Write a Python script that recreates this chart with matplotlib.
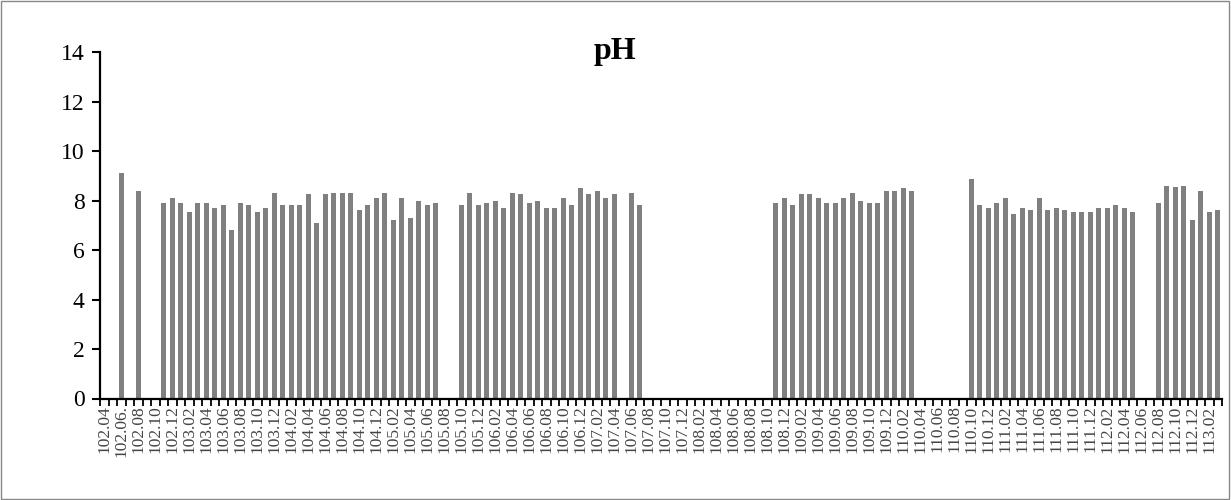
import numpy as np
import matplotlib
matplotlib.use("Agg")
import matplotlib.pyplot as plt
from matplotlib.patches import Rectangle

title = "pH"

# monthly pH values from 102.04 to 113.03 (None = no sample)
ph_values = [
    None, None, 9.1, None, 8.4, None, None, 7.9, 8.1, 7.9,      # 102.04-103.01
    7.55, 7.9, 7.9, 7.7, 7.8, 6.8, 7.9, 7.8, 7.55, 7.7,         # 103.02-103.11
    8.3, 7.8, 7.8, 7.8, 8.25, 7.1, 8.25, 8.3, 8.3, 8.3,         # 103.12-104.09
    7.6, 7.8, 8.1, 8.3, 7.2, 8.1, 7.3, 8.0, 7.8, 7.9,           # 104.10-105.07
    None, None, 7.8, 8.3, 7.8, 7.9, 8.0, 7.7, 8.3, 8.25,        # 105.08-106.05
    7.9, 8.0, 7.7, 7.7, 8.1, 7.8, 8.5, 8.25, 8.4, 8.1,          # 106.06-107.03
    8.25, None, 8.3, 7.8, None, None, None, None, None, None,   # 107.04-108.01
    None, None, None, None, None, None, None, None, None, 7.9,  # 108.02-108.11
    8.1, 7.8, 8.25, 8.25, 8.1, 7.9, 7.9, 8.1, 8.3, 8.0,         # 108.12-109.09
    7.9, 7.9, 8.4, 8.4, 8.5, 8.4, None, None, None, None,       # 109.10-110.07
    None, None, 8.85, 7.8, 7.7, 7.9, 8.1, 7.45, 7.7, 7.6,       # 110.08-111.05
    8.1, 7.6, 7.7, 7.6, 7.55, 7.55, 7.55, 7.7, 7.7, 7.8,        # 111.06-112.03
    7.7, 7.55, None, None, 7.9, 8.6, 8.55, 8.6, 7.2, 8.4,       # 112.04-113.01
    7.55, 7.6,                                                  # 113.02-113.03
]

tick_labels = [
    "102.04", "102.06.", "102.08", "102.10", "102.12",
    "103.02", "103.04", "103.06", "103.08", "103.10", "103.12",
    "104.02", "104.04", "104.06", "104.08", "104.10", "104.12",
    "105.02", "105.04", "105.06", "105.08", "105.10", "105.12",
    "106.02", "106.04", "106.06", "106.08", "106.10", "106.12",
    "107.02", "107.04", "107.06", "107.08", "107.10", "107.12",
    "108.02", "108.04", "108.06", "108.08", "108.10", "108.12",
    "109.02", "109.04", "109.06", "109.08", "109.10", "109.12",
    "110.02", "110.04", "110.06", "110.08", "110.10", "110.12",
    "111.02", "111.04", "111.06", "111.08", "111.10", "111.12",
    "112.02", "112.04", "112.06", "112.08", "112.10", "112.12",
    "113.02",
]

y_ticks = [0, 2, 4, 6, 8, 10, 12, 14]

plt.rcParams['font.family'] = ['Liberation Serif', 'DejaVu Serif']

W, H = 1231, 500
fig = plt.figure(figsize=(W / 100, H / 100), dpi=100)
ax = fig.add_axes([100 / W, 101.5 / H, 1122 / W, 346.5 / H])

n = len(ph_values)
x = np.arange(n)
vals = np.array([np.nan if v is None else v for v in ph_values], dtype=float)
ax.bar(x, np.nan_to_num(vals), width=0.6, color="#808080", zorder=2)

ax.set_xlim(-0.5, n - 0.5)
ax.set_ylim(0, 14)
ax.set_yticks(y_ticks)
ax.set_yticklabels([str(t) for t in y_ticks], fontsize=17)
ax.tick_params(axis="y", direction="out", length=6, width=1.5, pad=5)

ax.set_xticks(np.arange(0, n, 2)[:len(tick_labels)])
ax.set_xticklabels(tick_labels, rotation=90, fontsize=12.5, color="#444444")
ax.tick_params(axis="x", which="major", length=0, pad=5)
ax.set_xticks(np.arange(-0.5, n, 1), minor=True)
ax.tick_params(axis="x", which="minor", direction="out", length=5, width=1.3)

for s in ["top", "right"]:
    ax.spines[s].set_visible(False)
ax.spines["left"].set_linewidth(1.6)
ax.spines["bottom"].set_linewidth(1.6)

fig.text(615 / W, 1 - 52 / H, title, ha="center", va="center",
         fontsize=23, fontweight="bold")

fig.patches.append(Rectangle((0.001, 0.002), 0.997, 0.996, transform=fig.transFigure,
                             fill=False, edgecolor="#888888", linewidth=1))

fig.savefig("out.png", dpi=100)
